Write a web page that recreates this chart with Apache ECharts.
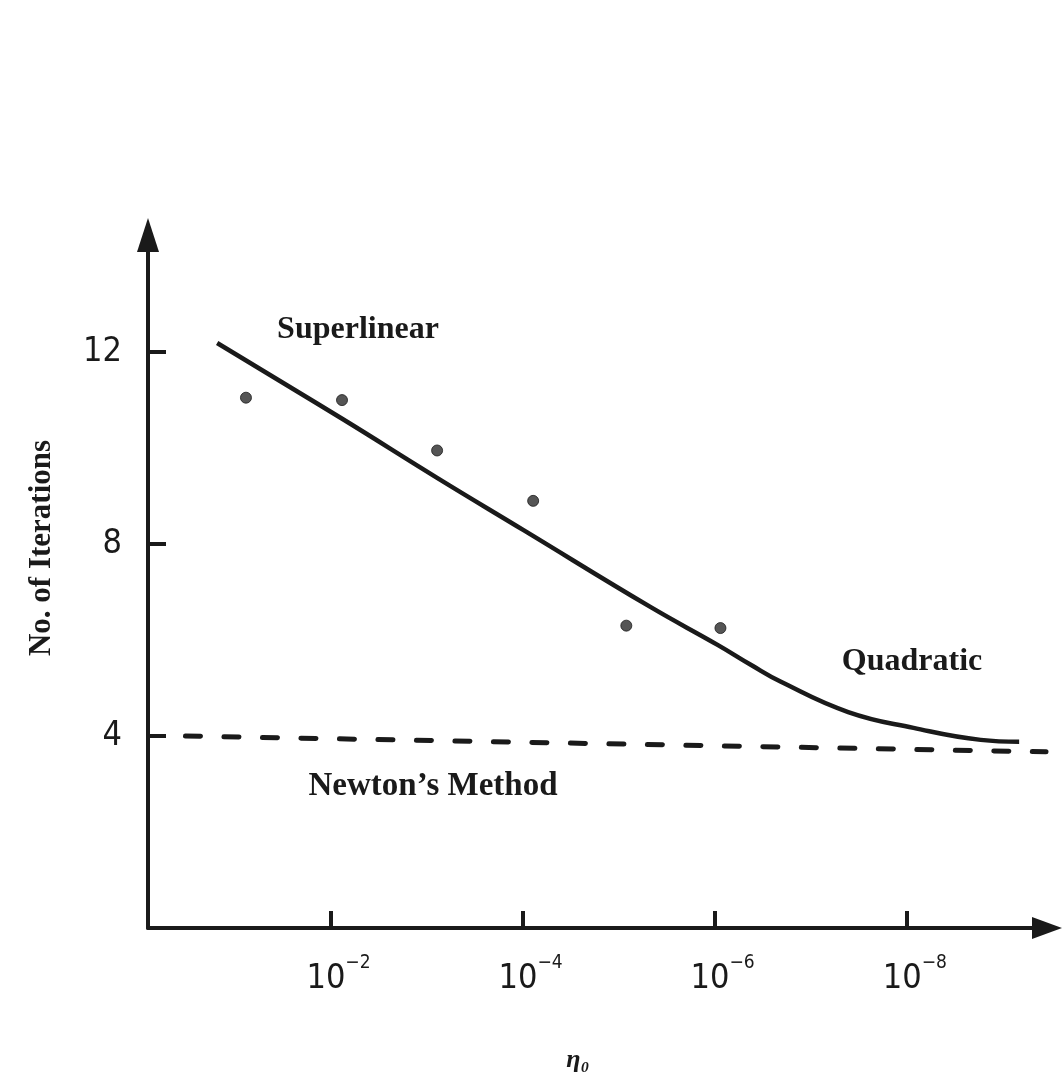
<!DOCTYPE html>
<html lang="en">
<head>
	<meta charset="UTF-8">
	<title>No. of Iterations vs eta0</title>
	<script src="https://cdn.jsdelivr.net/npm/echarts@6/dist/echarts.min.js" type="text/javascript"></script>
	<style>
		html,body{margin:0;padding:0;background:#fff;}
		#chart{width:1062px;height:1074px;}
	</style>
</head>
<body>
<div id="chart"></div>
</body>
<script>
	// x is the exponent k of eta0 = 10^-k
	var dotExp = [1.12, 2.12, 3.11, 4.11, 5.08, 6.06];
	var dotIter = [11.05, 11.0, 9.95, 8.9, 6.3, 6.25];

	var curveExp = [0.82, 2.13, 3.11, 4.01, 5.33, 6.03, 6.38, 6.69, 7.39, 8.07, 8.77, 9.17];
	var curveIter = [12.19, 10.6, 9.38, 8.29, 6.69, 5.9, 5.48, 5.13, 4.5, 4.17, 3.92, 3.88];

	var newtonExp = [0.49, 9.45];
	var newtonIter = [4.0, 3.67];

	var xTickExps = [2, 4, 6, 8];
	var yTicks = [4, 8, 12];

	var ink = '#1a1a1a';
	var serif = '"Liberation Serif", "DejaVu Serif", serif';
	var narrow = '"Liberation Sans Narrow", "DejaVu Sans Condensed", "Liberation Sans", sans-serif';

	function pairs(xs, ys){
		var out = [];
		for(var i=0;i<xs.length;i++){
			out.push([xs[i], ys[i]]);
		}
		return out;
	}

	var myChart = echarts.init(document.getElementById('chart'));
	var option = {
		animation: false,
		backgroundColor: '#fff',
		grid: {left: 148, right: 15, top: 235, bottom: 146},
		xAxis: {
			type: 'value',
			min: 0.1,
			max: 9.46,
			splitLine: {show: false},
			axisLine: {
				lineStyle: {color: ink, width: 4},
				symbol: ['none', 'triangle'],
				symbolSize: [22, 30]
			},
			axisTick: {
				inside: true,
				length: 17,
				customValues: xTickExps,
				lineStyle: {color: ink, width: 4}
			},
			axisLabel: {
				customValues: xTickExps,
				margin: 26,
				padding: [0, 0, 0, 16],
				formatter: function(v){
					return '{b|10}{s|\u2212' + v + '}';
				},
				rich: {
					b: {fontFamily: narrow, fontSize: 34, lineHeight: 50, color: ink},
					s: {fontFamily: narrow, fontSize: 19, verticalAlign: 'top', color: ink}
				}
			}
		},
		yAxis: {
			type: 'value',
			min: 0,
			max: 14.44,
			splitLine: {show: false},
			axisLine: {
				lineStyle: {color: ink, width: 4},
				symbol: ['none', 'triangle'],
				symbolSize: [22, 34]
			},
			axisTick: {
				inside: true,
				length: 18,
				customValues: yTicks,
				lineStyle: {color: ink, width: 4}
			},
			axisLabel: {
				customValues: yTicks,
				margin: 26,
				fontFamily: narrow,
				fontSize: 34,
				color: ink
			}
		},
		graphic: [
			{type: 'text', x: 42, y: 548, rotation: Math.PI / 2,
				style: {text: 'No. of Iterations', font: 'bold 31px ' + serif, fill: ink, align: 'center', verticalAlign: 'middle'}},
			{type: 'text', x: 358, y: 330,
				style: {text: 'Superlinear', font: 'bold 32px ' + serif, fill: ink, align: 'center', verticalAlign: 'middle'}},
			{type: 'text', x: 912, y: 662,
				style: {text: 'Quadratic', font: 'bold 32px ' + serif, fill: ink, align: 'center', verticalAlign: 'middle'}},
			{type: 'text', x: 433, y: 786,
				style: {text: 'Newton\u2019s Method', font: 'bold 33px ' + serif, fill: ink, align: 'center', verticalAlign: 'middle'}},
			{type: 'text', x: 578, y: 1060,
				style: {text: '\u03b7\u2080', font: 'italic bold 26px ' + serif, fill: ink, align: 'center', verticalAlign: 'middle'}}
		],
		series: [
			{
				name: 'Superlinear',
				type: 'line',
				data: pairs(curveExp, curveIter),
				smooth: 0.45,
				showSymbol: false,
				lineStyle: {color: ink, width: 4.5}
			},
			{
				name: 'Observed',
				type: 'scatter',
				data: pairs(dotExp, dotIter),
				symbolSize: 11,
				itemStyle: {color: '#2b2b2b', borderColor: ink, borderWidth: 1}
			},
			{
				name: "Newton's Method",
				type: 'line',
				data: pairs(newtonExp, newtonIter),
				showSymbol: false,
				lineStyle: {color: ink, width: 5, type: [15, 23.5], cap: 'round'}
			}
		]
	};
	myChart.setOption(option);
</script>
</html>
